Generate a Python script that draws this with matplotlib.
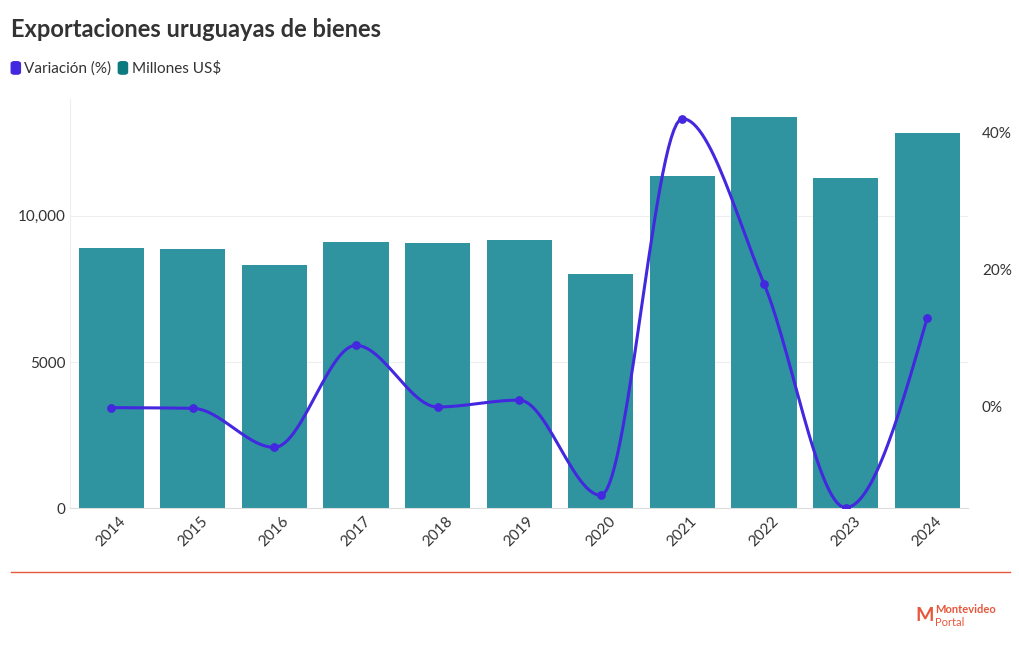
import numpy as np
import matplotlib.pyplot as plt
from matplotlib.patches import FancyBboxPatch

plt.rcParams['font.family'] = 'Lato'

years = ['2014', '2015', '2016', '2017', '2018', '2019', '2020', '2021', '2022', '2023', '2024']
millones = [8900, 8870, 8320, 9110, 9080, 9180, 8010, 11370, 13390, 11300, 12840]
variacion = [-0.2, -0.3, -6.0, 8.9, -0.1, 0.9, -13.0, 42.0, 17.9, -14.8, 12.9]

bar_color = '#2f949f'
line_color = '#4328e0'
grid_color = '#eeeeee'


def monotone_curve(x, y, steps=30):
    # monotone cubic (Steffen) through the points, for drawing only
    x = np.asarray(x, float)
    y = np.asarray(y, float)
    h = np.diff(x)
    s = np.diff(y) / h
    n = len(x)
    m = np.zeros(n)
    for i in range(1, n - 1):
        p = (s[i - 1] * h[i] + s[i] * h[i - 1]) / (h[i - 1] + h[i])
        m[i] = (np.sign(s[i - 1]) + np.sign(s[i])) * min(abs(s[i - 1]), abs(s[i]), 0.5 * abs(p))
    m[0] = (3 * s[0] - m[1]) / 2 if True else 0
    m[-1] = (3 * s[-1] - m[-2]) / 2
    xs, ys = [], []
    t = np.linspace(0, 1, steps)
    for i in range(n - 1):
        h00 = 2 * t ** 3 - 3 * t ** 2 + 1
        h10 = t ** 3 - 2 * t ** 2 + t
        h01 = -2 * t ** 3 + 3 * t ** 2
        h11 = t ** 3 - t ** 2
        xs.extend(x[i] + t * h[i])
        ys.extend(h00 * y[i] + h10 * h[i] * m[i] + h01 * y[i + 1] + h11 * h[i] * m[i + 1])
    return xs, ys


fig = plt.figure(figsize=(10.2, 6.5), dpi=100)
ax = fig.add_axes([0.069, 0.218, 0.88, 0.63])
x = np.arange(len(years))

ax.bar(x, millones, width=0.8, color=bar_color, zorder=2)
ax.set_ylim(0, 14000)
ax.set_xlim(-0.5, len(years) - 0.5)
ax.set_yticks([0, 5000, 10000])
ax.set_yticklabels(['0', '5000', '10,000'])
ax.grid(axis='y', color=grid_color, zorder=0)
ax.set_xticks(x)
ax.set_xticklabels(years, rotation=45)
for s in ax.spines.values():
    s.set_visible(False)
ax.spines['bottom'].set_visible(True)
ax.spines['bottom'].set_color('#dddddd')
ax.spines['left'].set_visible(True)
ax.spines['left'].set_color('#eeeeee')
ax.tick_params(length=0, labelsize=11, colors='#333333')
ax.tick_params(axis='x', pad=4)

ax2 = ax.twinx()
ax2.set_ylim(-14.9, 44.9)
ax2.set_yticks([0, 20, 40])
ax2.set_yticklabels(['0%', '20%', '40%'])
for s in ax2.spines.values():
    s.set_visible(False)
ax2.tick_params(length=0, labelsize=11, colors='#333333', pad=10)
cx, cy = monotone_curve(x, variacion)
ax2.plot(cx, cy, color=line_color, lw=2.2, zorder=3)
ax2.scatter(x, variacion, color=line_color, s=28, zorder=4)

fig.text(0.011, 0.955, 'Exportaciones uruguayas de bienes', fontsize=17, fontweight='bold',
         color='#333333', va='center')
fig.patches.append(FancyBboxPatch((0.011, 0.886), 0.009, 0.019, boxstyle='round,pad=0,rounding_size=0.003',
                                  transform=fig.transFigure, color=line_color))
fig.text(0.024, 0.895, 'Variación (%)', fontsize=11, color='#333333', va='center')
fig.patches.append(FancyBboxPatch((0.116, 0.886), 0.009, 0.019, boxstyle='round,pad=0,rounding_size=0.003',
                                  transform=fig.transFigure, color='#0d7a80'))
fig.text(0.129, 0.895, 'Millones US$', fontsize=11, color='#333333', va='center')

fig.add_artist(plt.Line2D([0.011, 0.99], [0.12, 0.12], color='#e8573c', lw=1))
fig.text(0.917, 0.062, 'Montevideo', fontsize=8, color='#e8573c', fontweight='bold', va='center')
fig.text(0.917, 0.043, 'Portal', fontsize=8, color='#e8573c', va='center')
fig.text(0.897, 0.053, 'M', fontsize=14, color='#e8573c', fontweight='bold', va='center')

fig.savefig('out.png', dpi=100)
